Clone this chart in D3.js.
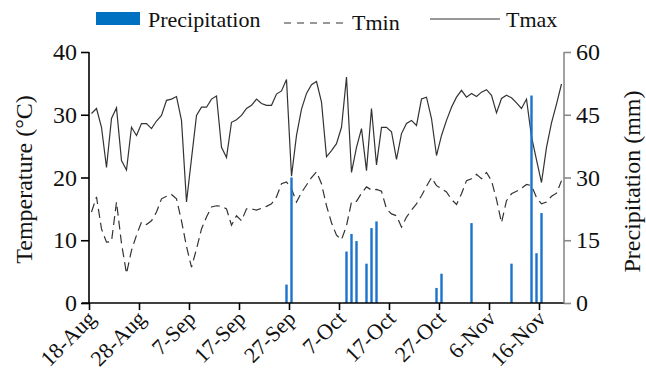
<!DOCTYPE html>
<html>
<head>
<meta charset="utf-8">
<script src="https://cdn.jsdelivr.net/npm/d3@7/dist/d3.min.js"></script>
<style>
  html, body { margin: 0; padding: 0; background: #fff; }
  svg { display: block; }
  text { font-family: "Liberation Serif", "Times New Roman", serif; fill: #111; }
</style>
</head>
<body>
<svg id="chart" width="646" height="383"></svg>
<script>
// ---- data ----
const startDate = "2019-08-18";   // first day of the daily record
const axisEnd = "2019-11-21";     // end of the date axis
const tickLabels = ["18-Aug","28-Aug","7-Sep","17-Sep","27-Sep","7-Oct","17-Oct","27-Oct","6-Nov","16-Nov"];

const tmax = [30.2,31.0,28.0,21.6,29.4,31.1,22.7,21.2,28.0,26.7,
              28.6,28.6,27.8,29.0,29.9,32.3,32.5,32.9,29.1,16.1,
              23.0,29.9,31.2,31.2,32.5,33.0,24.8,23.2,28.8,29.2,
              29.9,31.0,31.5,32.5,31.8,31.5,31.5,33.3,33.8,35.6,
              20.2,26.7,30.9,33.4,34.8,35.3,32.0,23.3,24.3,25.4,
              28.0,36.0,20.8,24.8,27.8,21.1,31.0,22.0,28.0,28.0,
              27.3,22.9,27.0,28.6,29.1,28.3,32.5,32.8,29.4,23.5,
              26.7,29.1,31.2,32.8,33.9,32.8,33.4,32.9,33.6,34.0,
              33.1,30.3,32.6,33.1,32.7,31.9,31.0,32.5,26.5,22.8,
              19.2,24.8,28.7,31.7,34.9];

const tmin = [14.5,16.9,11.8,9.7,9.8,16.1,9.5,4.7,8.4,10.8,
              12.9,12.5,13.1,14.5,16.6,17.0,17.3,16.6,13.1,9.0,
              5.7,8.6,11.8,13.7,15.3,15.5,15.4,15.0,12.4,13.9,
              13.1,15.0,15.0,14.8,15.1,15.4,15.8,16.9,19.0,19.3,
              18.2,16.1,17.6,18.8,20.0,20.9,19.0,15.5,12.8,10.8,
              10.1,12.3,16.1,16.2,17.5,18.5,18.0,18.1,17.8,15.0,
              14.2,13.9,12.1,13.7,14.8,15.8,17.1,18.6,20.0,18.7,
              18.2,17.7,16.5,15.7,17.4,19.5,19.8,20.5,19.8,20.8,
              19.5,16.5,12.8,16.3,17.4,17.8,18.3,18.9,18.7,16.8,
              15.8,16.1,17.0,17.5,19.5];

const precip = [0,0,0,0,0,0,0,0,0,0,
                0,0,0,0,0,0,0,0,0,0,
                0,0,0,0,0,0,0,0,0,0,
                0,0,0,0,0,0,0,0,0,4.4,
                30.0,0,0,0,0,0,0,0,0,0,
                0,12.3,16.5,14.8,0,9.4,17.9,19.5,0,0,
                0,0,0,0,0,0,0,0,0,3.6,
                7.0,0,0,0,0,0,19.1,0,0,0,
                0,0,0,0,9.4,0,0,0,49.6,11.9,
                21.5,0,0,0,0];

const tempTicks = [0,10,20,30,40];
const precipTicks = [0,15,30,45,60];

// ---- setup ----
const parse = d3.timeParse("%Y-%m-%d");
const d0 = parse(startDate);
const dates = d3.timeDay.range(d0, d3.timeDay.offset(d0, tmax.length));
const mid = d => d3.timeHour.offset(d, 12);
const rows = dates.map((d, i) => ({date: d, tmax: tmax[i], tmin: tmin[i], p: precip[i]}));

const svg = d3.select("#chart");
const L = 89, R = 564, T = 52, B = 303;

const x = d3.scaleTime().domain([d0, parse(axisEnd)]).range([L, R]);
const yT = d3.scaleLinear().domain([0, 40]).range([B, T]);
const yP = d3.scaleLinear().domain([0, 60]).range([B, T]);

// lines
const lineMax = d3.line().x(d => x(mid(d.date))).y(d => yT(d.tmax));
const lineMin = d3.line().x(d => x(mid(d.date))).y(d => yT(d.tmin));

svg.append("path").datum(rows).attr("d", lineMin)
  .attr("fill", "none").attr("stroke", "#333").attr("stroke-width", 1.2)
  .attr("stroke-dasharray", "9,5");
svg.append("path").datum(rows).attr("d", lineMax)
  .attr("fill", "none").attr("stroke", "#333").attr("stroke-width", 1.2);

// bars
const bw = 2.4;
svg.append("g").selectAll("rect").data(rows.filter(d => d.p > 0)).join("rect")
  .attr("x", d => x(mid(d.date)) - bw / 2)
  .attr("y", d => yP(d.p))
  .attr("width", bw)
  .attr("height", d => yP(0) - yP(d.p))
  .attr("fill", "#1a73cc");

// axes
const tickDates = tickLabels.map((_, i) => d3.timeDay.offset(d0, i * 10));
const xAxis = d3.axisBottom(x).tickValues(tickDates).tickSize(7).tickFormat("");
const gx = svg.append("g").attr("transform", `translate(0,${B})`).call(xAxis);
gx.select(".domain").attr("stroke", "#000").attr("stroke-width", 1.6).attr("d", `M${L - 7},0H${R}`);
gx.selectAll(".tick line").attr("stroke", "#000").attr("stroke-width", 1.6);

svg.append("g").selectAll("text").data(tickDates).join("text")
  .attr("transform", (d) => `translate(${x(d) + 8},${B + 17}) rotate(-45)`)
  .attr("text-anchor", "end")
  .attr("font-size", 22)
  .text((d, i) => tickLabels[i]);

const gl = svg.append("g").attr("transform", `translate(${L},0)`)
  .call(d3.axisLeft(yT).tickValues(tempTicks).tickSize(8).tickPadding(4));
gl.select(".domain").attr("stroke", "#000").attr("stroke-width", 1.6).attr("d", `M0,${T}V${B}`);
gl.selectAll(".tick line").attr("stroke", "#000").attr("stroke-width", 1.6);
gl.selectAll(".tick text").attr("font-size", 24).attr("font-family", "Liberation Serif").attr("fill", "#111");

const gr = svg.append("g").attr("transform", `translate(${R},0)`)
  .call(d3.axisRight(yP).tickValues(precipTicks).tickSize(7).tickPadding(5));
gr.select(".domain").attr("stroke", "#8a8a8a").attr("stroke-width", 1.6).attr("d", `M0,${T}V${B}`);
gr.selectAll(".tick line").attr("stroke", "#8a8a8a").attr("stroke-width", 1.6);
gr.selectAll(".tick text").attr("font-size", 24).attr("font-family", "Liberation Serif").attr("fill", "#111");

// axis titles
svg.append("text").attr("transform", `translate(32,${(T + B) / 2 + 2}) rotate(-90)`)
  .attr("text-anchor", "middle").attr("font-size", 24).text("Temperature (°C)");
svg.append("text").attr("transform", `translate(640,${(T + B) / 2 + 4}) rotate(-90)`)
  .attr("text-anchor", "middle").attr("font-size", 24).text("Precipitation (mm)");

// legend
const lg = svg.append("g");
lg.append("rect").attr("x", 96).attr("y", 12).attr("width", 44).attr("height", 13).attr("fill", "#0070C0");
lg.append("text").attr("x", 148).attr("y", 27).attr("font-size", 22).text("Precipitation");
lg.append("line").attr("x1", 284).attr("x2", 344).attr("y1", 23).attr("y2", 23)
  .attr("stroke", "#333").attr("stroke-width", 1.2).attr("stroke-dasharray", "7,6");
lg.append("text").attr("x", 352).attr("y", 30).attr("font-size", 22).text("Tmin");
lg.append("line").attr("x1", 430).attr("x2", 500).attr("y1", 19).attr("y2", 19)
  .attr("stroke", "#333").attr("stroke-width", 1.2);
lg.append("text").attr("x", 506).attr("y", 27).attr("font-size", 22).text("Tmax");
</script>
</body>
</html>
